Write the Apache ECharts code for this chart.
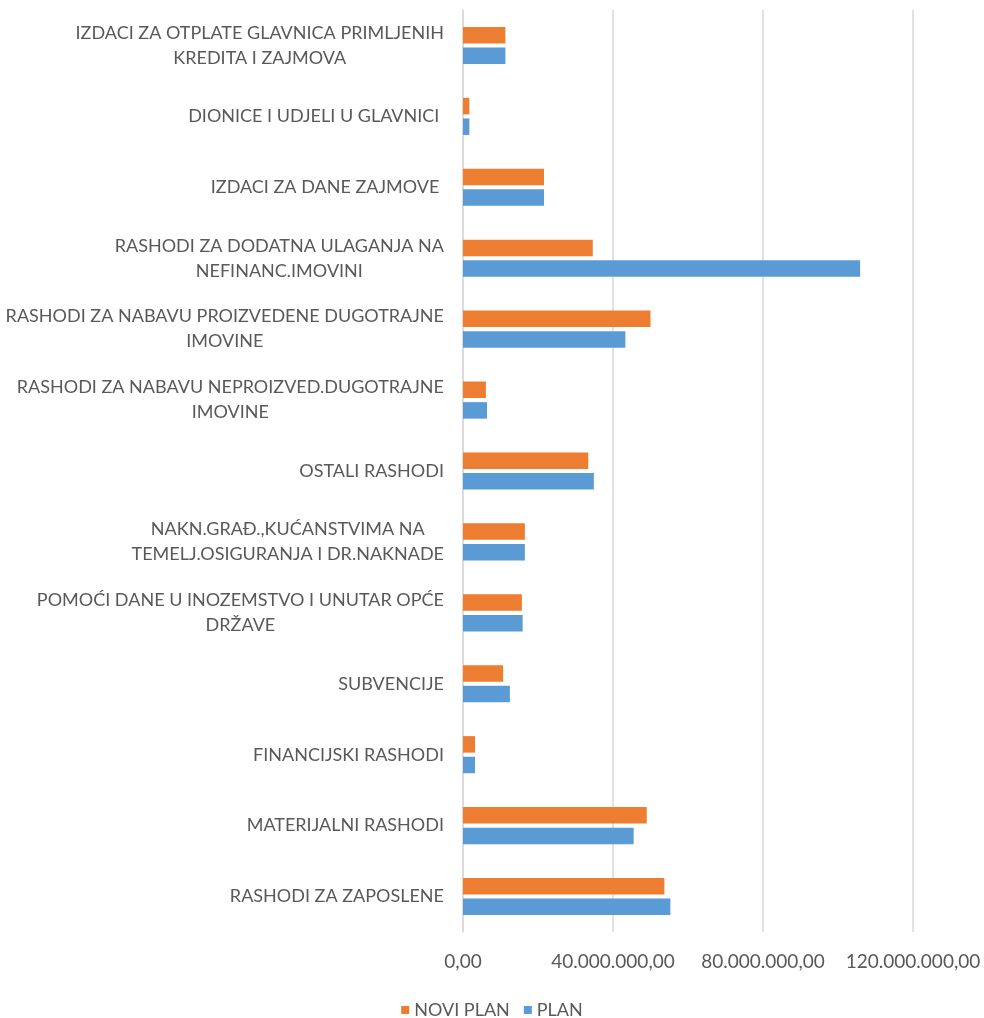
<!DOCTYPE html>
<html>
<head>
<meta charset="utf-8">
<script src="https://cdn.jsdelivr.net/npm/echarts@6/dist/echarts.min.js"></script>
<style>
  html, body { margin: 0; padding: 0; background: #fff; }
  #chart { width: 984px; height: 1018px; }
</style>
</head>
<body>
<div id="chart"></div>
<script>
// categories from top to bottom (line breaks as in the original labels)
var categories = [
  'IZDACI ZA OTPLATE GLAVNICA PRIMLJENIH\nKREDITA I ZAJMOVA',
  'DIONICE I UDJELI U GLAVNICI ',
  'IZDACI ZA DANE ZAJMOVE ',
  'RASHODI ZA DODATNA ULAGANJA NA\nNEFINANC.IMOVINI',
  'RASHODI ZA NABAVU PROIZVEDENE DUGOTRAJNE\nIMOVINE',
  'RASHODI ZA NABAVU NEPROIZVED.DUGOTRAJNE\nIMOVINE',
  'OSTALI RASHODI',
  'NAKN.GRAĐ.,KUĆANSTVIMA NA\nTEMELJ.OSIGURANJA I DR.NAKNADE',
  'POMOĆI DANE U INOZEMSTVO I UNUTAR OPĆE\nDRŽAVE',
  'SUBVENCIJE',
  'FINANCIJSKI RASHODI',
  'MATERIJALNI RASHODI',
  'RASHODI ZA ZAPOSLENE'
];

var noviPlan = [11300000, 1700000, 21600000, 34600000, 50000000, 6100000, 33400000,
  16500000, 15700000, 10700000, 3200000, 49000000, 53700000];
var plan = [11300000, 1700000, 21600000, 105900000, 43300000, 6400000, 34900000,
  16500000, 15900000, 12500000, 3200000, 45500000, 55300000];

var seriesNames = ['NOVI PLAN', 'PLAN'];
var xTicks = [0, 40000000, 80000000, 120000000];

function fmt(v) {
  var s = Math.round(v).toString().replace(/\B(?=(\d{3})+(?!\d))/g, '.');
  return s + ',00';
}

var chart = echarts.init(document.getElementById('chart'));
var font = 'Lato, "Open Sans", sans-serif';

var option = {
  animation: false,
  textStyle: { fontFamily: font },
  grid: { left: 463, right: 71, top: 10, bottom: 86, containLabel: false },
  legend: {
    data: seriesNames,
    top: 996,
    left: 'center',
    icon: 'rect',
    itemWidth: 8,
    itemHeight: 8,
    itemGap: 14,
    textStyle: { color: '#595959', fontSize: 18, fontFamily: font }
  },
  xAxis: {
    type: 'value',
    min: xTicks[0],
    max: xTicks[xTicks.length - 1],
    interval: xTicks[1] - xTicks[0],
    axisLine: { show: false },
    axisTick: { show: false },
    splitLine: { lineStyle: { color: '#d9d9d9', width: 1.5 } },
    axisLabel: {
      margin: 20,
      color: '#595959',
      fontSize: 19,
      fontFamily: font,
      formatter: fmt
    }
  },
  yAxis: {
    type: 'category',
    inverse: true,
    data: categories,
    axisLine: { lineStyle: { color: '#d9d9d9', width: 1.5 } },
    axisTick: { length: 6, lineStyle: { color: '#d9d9d9', width: 1.5 } },
    axisLabel: {
      margin: 19,
      color: '#595959',
      fontSize: 18,
      fontFamily: font,
      lineHeight: 25,
      formatter: function (v) {
        return v.split('\n').map(function (l) { return '{c|' + l + '}'; }).join('\n');
      },
      rich: {
        c: { align: 'center', color: '#595959', fontSize: 18, fontFamily: font, lineHeight: 25 }
      }
    }
  },
  series: [
    {
      name: seriesNames[0],
      type: 'bar',
      data: noviPlan,
      barWidth: 16.5,
      barGap: '25%',
      itemStyle: { color: '#ED7D31' }
    },
    {
      name: seriesNames[1],
      type: 'bar',
      data: plan,
      barWidth: 16.5,
      barGap: '25%',
      itemStyle: { color: '#5B9BD5' }
    }
  ]
};

chart.setOption(option);
</script>
</body>
</html>
